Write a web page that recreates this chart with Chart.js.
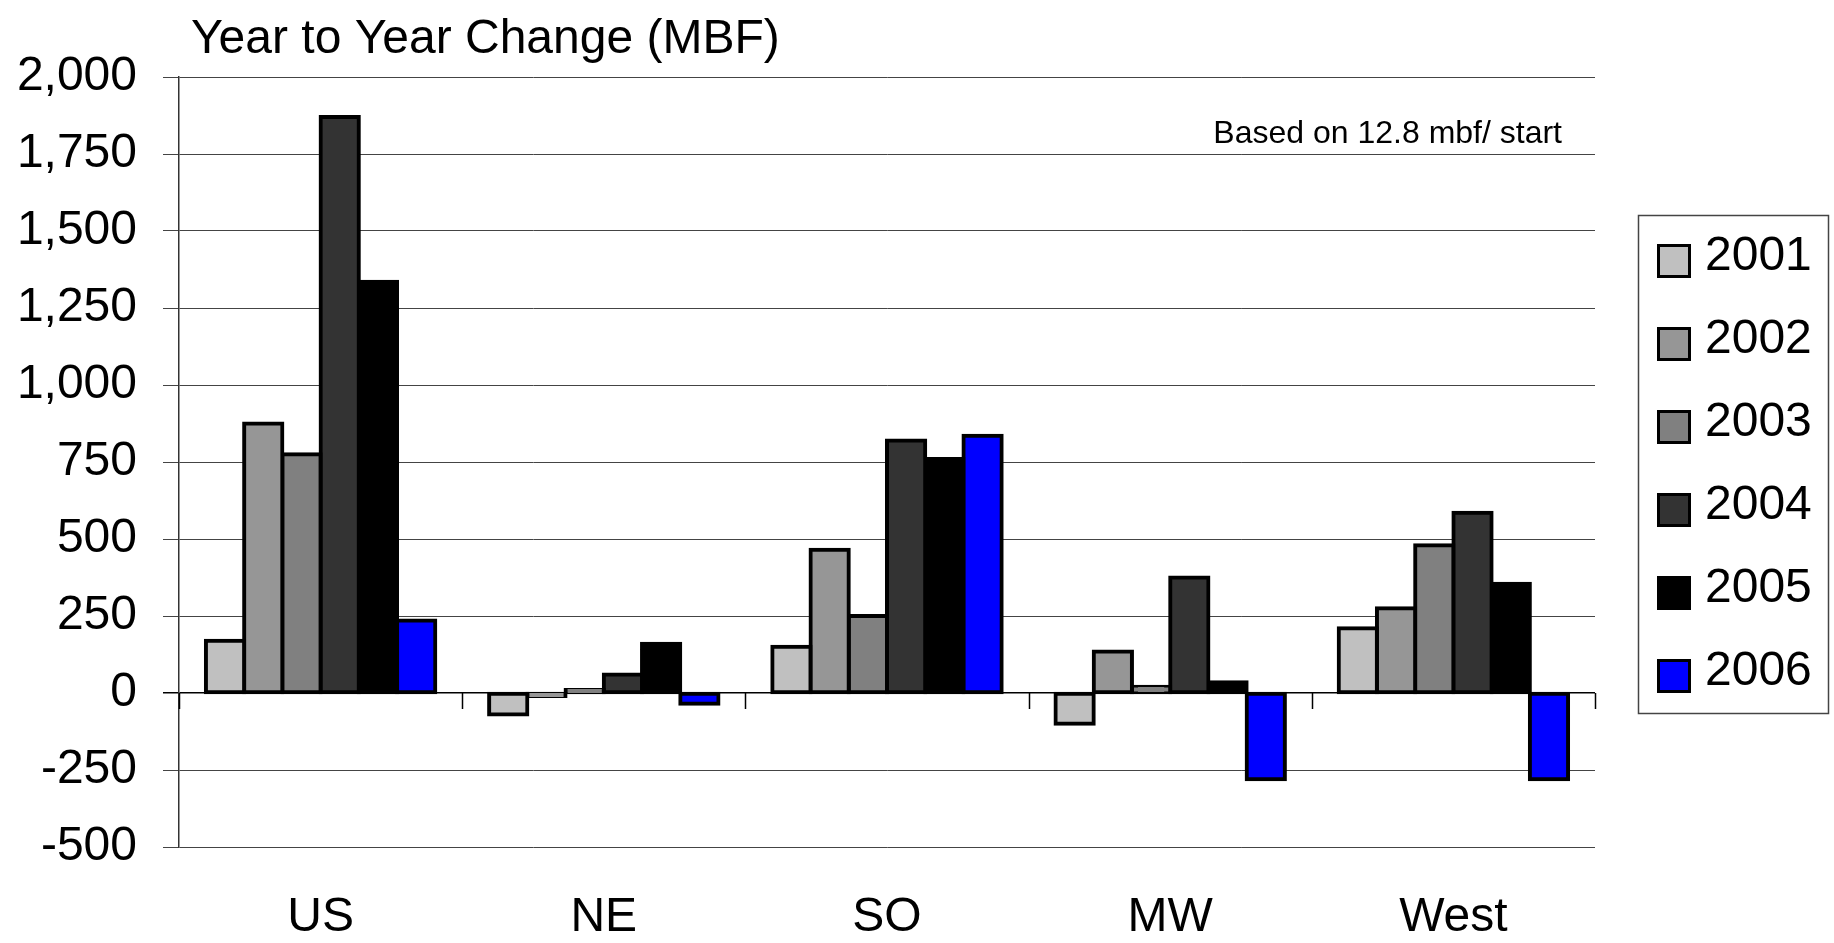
<!DOCTYPE html>
<html lang="en">
<head>
<meta charset="UTF-8">
<title>Year to Year Change (MBF)</title>
<script src="https://cdn.jsdelivr.net/npm/chart.js"></script>
<style>
  html, body { margin: 0; padding: 0; background: #fff; }
  #wrap { width: 1834px; height: 943px; }
</style>
</head>
<body>
<div id="wrap"><canvas id="chart"></canvas></div>
<script>
// regions on the x axis
const regions = ['US', 'NE', 'SO', 'MW', 'West'];
const years = ['2001', '2002', '2003', '2004', '2005', '2006'];

// change in MBF, one array per year, in region order
const y2001 = [170, -70, 150, -100, 210];
const y2002 = [875, -10, 465, 135, 275];
const y2003 = [775, 10, 250, 20, 480];
const y2004 = [1870, 60, 820, 375, 585];
const y2005 = [1335, 160, 760, 35, 355];
const y2006 = [235, -35, 835, -280, -280];

const yMin = -500, yMax = 2000, yStep = 250;
const titleText = 'Year to Year Change (MBF)';
const noteText = 'Based on 12.8 mbf/ start';

const series = [y2001, y2002, y2003, y2004, y2005, y2006];
const colors = ['#c0c0c0', '#969696', '#808080', '#333333', '#000000', '#0000ff'];
const FONT = '"Liberation Sans", Arial, sans-serif';

const extras = {
    id: 'extras',
    beforeDatasetsDraw(chart) {
        // little ticks hanging below the zero line at the category edges
        const { ctx, scales: { x, y } } = chart;
        const y0 = y.getPixelForValue(0);
        ctx.save();
        ctx.strokeStyle = '#000';
        ctx.lineWidth = 1.5;
        ctx.beginPath();
        for (let i = 0; i <= regions.length; i++) {
            const px = Math.round(x.getPixelForValue(i - 0.5)) + 0.5;
            ctx.moveTo(px, y0);
            ctx.lineTo(px, y0 + 16);
        }
        ctx.stroke();
        ctx.restore();
    },
    afterDraw(chart) {
        const { ctx, chartArea, scales: { y } } = chart;
        ctx.save();
        ctx.fillStyle = '#000';

        // title
        ctx.font = '48px ' + FONT;
        ctx.textAlign = 'left';
        ctx.textBaseline = 'alphabetic';
        ctx.fillText(titleText, chartArea.left + 12, 53);

        // note
        ctx.font = '32px ' + FONT;
        ctx.textAlign = 'right';
        ctx.fillText(noteText, chartArea.right - 33, y.getPixelForValue(1750) - 11);

        // legend box
        const left = chart.width - 196, top = 215;
        ctx.strokeStyle = '#444';
        ctx.lineWidth = 1.5;
        ctx.strokeRect(left + 0.5, top + 0.5, 190, 498);

        ctx.font = '48px ' + FONT;
        ctx.textAlign = 'left';
        ctx.textBaseline = 'middle';
        chart.data.datasets.forEach((ds, i) => {
            const cy = top + 42 + i * 83;
            ctx.fillStyle = ds.backgroundColor;
            ctx.fillRect(left + 19, cy - 13, 34, 34);
            ctx.strokeStyle = '#000';
            ctx.lineWidth = 3;
            ctx.strokeRect(left + 20.5, cy - 11.5, 31, 31);
            ctx.fillStyle = '#000';
            ctx.fillText(ds.label, left + 67, cy);
        });
        ctx.restore();
    }
};

const ctx = document.getElementById('chart').getContext('2d');
new Chart(ctx, {
    type: 'bar',
    data: {
        labels: regions,
        datasets: years.map((yr, i) => ({
            label: yr,
            data: series[i],
            backgroundColor: colors[i],
            borderColor: '#000',
            borderWidth: 4,
            borderSkipped: false,
            inflateAmount: 2,
            categoryPercentage: 0.81,
            barPercentage: 1.0
        }))
    },
    options: {
        responsive: true,
        maintainAspectRatio: false,
        animation: false,
        layout: { padding: { top: 77, left: 17, right: 239, bottom: 0 } },
        plugins: {
            legend: { display: false },
            title: { display: false },
            tooltip: { enabled: false }
        },
        scales: {
            x: {
                grid: { display: false, drawTicks: false },
                border: { display: false },
                ticks: {
                    color: '#000',
                    padding: 47,
                    font: { family: FONT, size: 48, lineHeight: 1 }
                },
                afterFit: s => { s.height = 96; }
            },
            y: {
                min: yMin,
                max: yMax,
                border: { color: '#333', width: 1.5 },
                grid: {
                    color: c => c.tick && c.tick.value === 0 ? '#000' : '#444',
                    lineWidth: c => c.tick && c.tick.value === 0 ? 1.5 : 1,
                    tickLength: 16
                },
                ticks: {
                    stepSize: yStep,
                    color: '#000',
                    padding: 26,
                    font: { family: FONT, size: 48 },
                    callback: v => v.toLocaleString('en-US')
                },
                afterFit: s => { s.width = 162; }
            }
        }
    },
    plugins: [extras]
});
</script>
</body>
</html>
